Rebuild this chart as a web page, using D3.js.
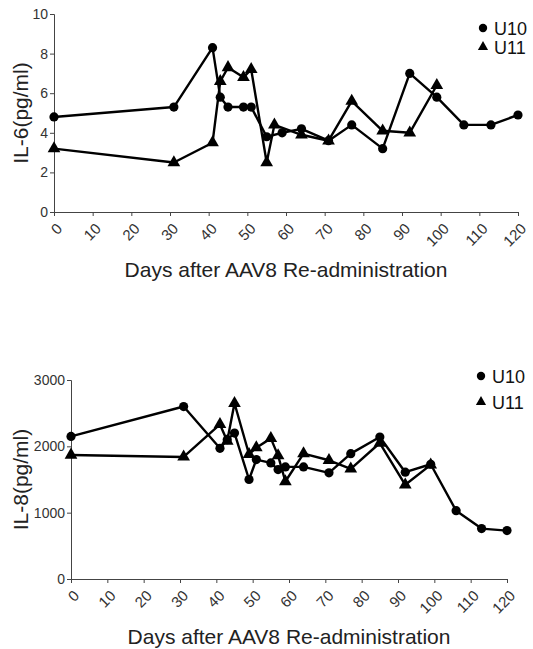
<!DOCTYPE html>
<html>
<head>
<meta charset="utf-8">
<script src="https://cdn.jsdelivr.net/npm/d3@7.9.0/dist/d3.min.js"></script>
<style>
  body { margin: 0; background: #fff; }
  svg { display: block; font-family: "Liberation Sans", Arial, sans-serif; }
</style>
</head>
<body>
<svg id="chart" width="533" height="649"></svg>
<script>
// ------------------- Data -------------------
const dayTicks = [0, 10, 20, 30, 40, 50, 60, 70, 80, 90, 100, 110, 120];
const seriesNames = ['U10', 'U11'];

const il6DaysU10 = [0, 31, 41, 43, 45, 49, 51, 55, 59, 64, 71, 77, 85, 92, 99, 106, 113, 120];
const il6U10 = [4.8, 5.3, 8.3, 5.8, 5.3, 5.3, 5.3, 3.8, 4.0, 4.2, 3.6, 4.4, 3.2, 7.0, 5.8, 4.4, 4.4, 4.9];
const il6DaysU11 = [0, 31, 41, 43, 45, 49, 51, 55, 57, 64, 71, 77, 85, 92, 99];
const il6U11 = [3.2, 2.5, 3.5, 6.6, 7.3, 6.8, 7.2, 2.5, 4.4, 3.9, 3.6, 5.6, 4.1, 4.0, 6.4];
const il6Ticks = [0, 2, 4, 6, 8, 10];

const il8DaysU10 = [0, 31, 41, 43, 45, 49, 51, 55, 57, 59, 64, 71, 77, 85, 92, 99, 106, 113, 120];
const il8U10 = [2150, 2600, 1970, 2100, 2200, 1500, 1800, 1750, 1650, 1690, 1690, 1600, 1890, 2140, 1610, 1730, 1030, 760, 730];
const il8DaysU11 = [0, 31, 41, 43, 45, 49, 51, 55, 57, 59, 64, 71, 77, 85, 92, 99];
const il8U11 = [1870, 1840, 2330, 2080, 2650, 1880, 1980, 2120, 1860, 1470, 1890, 1790, 1660, 2050, 1420, 1720];
const il8Ticks = [0, 1000, 2000, 3000];

const svg = d3.select('#chart');
const zip = (xs, ys) => xs.map((x, i) => ({ day: x, value: ys[i] }));

// ------------------- Panel -------------------
function drawPanel(opts) {
  const { left, right, top, bottom, yMax, yTicks, yLabel, u10, u11, legendX, legendY, legendGap } = opts;

  const x = d3.scaleLinear().domain([0, 120]).range([left, right]);
  const y = d3.scaleLinear().domain([0, yMax]).range([bottom, top]);
  const g = svg.append('g');

  // axes
  const yAxis = g.append('g')
    .attr('transform', `translate(${left},0)`)
    .call(d3.axisLeft(y).tickValues(yTicks).tickSize(4).tickPadding(2).tickFormat(d3.format('d')));
  const xAxis = g.append('g')
    .attr('transform', `translate(0,${bottom})`)
    .call(d3.axisBottom(x).tickValues(dayTicks).tickSize(4).tickFormat(d3.format('d')));

  [yAxis, xAxis].forEach(a => {
    a.select('.domain').attr('stroke', '#444');
    a.selectAll('.tick line').attr('stroke', '#444');
    a.selectAll('text').attr('fill', '#333');
  });
  yAxis.selectAll('text').style('font-size', '14px');

  xAxis.selectAll('text')
    .style('font-size', '15px')
    .attr('text-anchor', 'end')
    .attr('x', 0).attr('y', 0).attr('dy', '0.35em')
    .attr('transform', 'translate(5,14) rotate(-45)');

  // axis titles
  g.append('text')
    .attr('x', (left + right) / 2)
    .attr('y', bottom + 65)
    .attr('text-anchor', 'middle')
    .style('font-size', '21px')
    .attr('fill', '#222')
    .text('Days after AAV8 Re-administration');

  g.append('text')
    .attr('transform', `translate(28,${(top + bottom) / 2}) rotate(-90)`)
    .attr('text-anchor', 'middle')
    .style('font-size', '21px')
    .attr('fill', '#222')
    .text(yLabel);

  // lines
  const line = d3.line().x(d => x(d.day)).y(d => y(d.value));
  [u10, u11].forEach(data => {
    g.append('path')
      .datum(data)
      .attr('d', line)
      .attr('fill', 'none')
      .attr('stroke', '#000')
      .attr('stroke-width', 2.4)
      .attr('stroke-linejoin', 'round');
  });

  // markers
  g.append('g').selectAll('circle')
    .data(u10)
    .join('circle')
    .attr('cx', d => x(d.day))
    .attr('cy', d => y(d.value))
    .attr('r', 4.6)
    .attr('fill', '#000');

  const tri = d3.symbol(d3.symbolTriangle).size(70);
  g.append('g').selectAll('path')
    .data(u11)
    .join('path')
    .attr('d', tri)
    .attr('transform', d => `translate(${x(d.day)},${y(d.value)})`)
    .attr('fill', '#000');

  // legend
  const lg = g.append('g').attr('transform', `translate(${legendX},${legendY})`);
  seriesNames.forEach((name, i) => {
    const row = lg.append('g').attr('transform', `translate(0,${i * legendGap})`);
    if (i === 0) row.append('circle').attr('r', 4.2).attr('fill', '#000');
    else row.append('path').attr('d', d3.symbol(d3.symbolTriangle).size(45)).attr('fill', '#000');
    row.append('text')
      .attr('x', 11)
      .attr('y', 6.5)
      .style('font-size', '18px')
      .attr('fill', '#111')
      .text(name);
  });
}

// ------------------- Main -------------------
drawPanel({
  left: 54, right: 518, top: 14, bottom: 212,
  yMax: 10, yTicks: il6Ticks, yLabel: 'IL-6(pg/ml)',
  u10: zip(il6DaysU10, il6U10), u11: zip(il6DaysU11, il6U11),
  legendX: 483, legendY: 28, legendGap: 19
});

drawPanel({
  left: 71, right: 507, top: 380, bottom: 579,
  yMax: 3000, yTicks: il8Ticks, yLabel: 'IL-8(pg/ml)',
  u10: zip(il8DaysU10, il8U10), u11: zip(il8DaysU11, il8U11),
  legendX: 481, legendY: 376, legendGap: 26
});
</script>
</body>
</html>
